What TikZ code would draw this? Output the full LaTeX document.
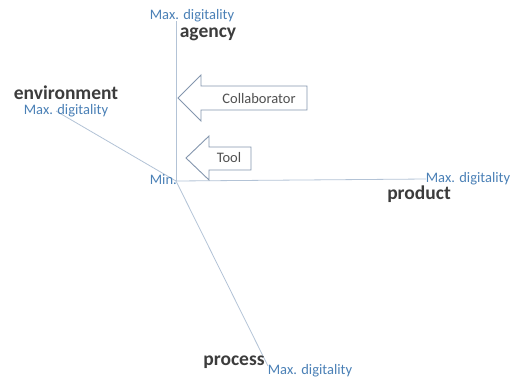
\documentclass[tikz,border=0pt]{standalone}
\usepackage{fontspec}
\setmainfont{Carlito}
\begin{document}
\begin{tikzpicture}[x=1pt,y=-1pt,
  axisline/.style={draw=axisblue,line width=0.8pt},
  maxlbl/.style={text=lblblue,font=\fontsize{14.5}{16}\selectfont,inner sep=0pt},
  dimlbl/.style={text=darktxt,font=\fontsize{19.5}{22}\selectfont\bfseries,inner sep=0pt},
  arrowshape/.style={draw=arrowgray,line width=0.9pt,fill=white,line join=miter},
  arrowtxt/.style={text=darktxt!90,font=\fontsize{14.5}{16}\selectfont,inner sep=0pt}]
\definecolor{axisblue}{HTML}{B3C3D6}
\definecolor{lblblue}{HTML}{4A80B6}
\definecolor{darktxt}{HTML}{3C3C3C}
\definecolor{arrowgray}{HTML}{8496AE}
\useasboundingbox (0,0) rectangle (513,381);

% origin and axis ends
\coordinate (O) at (176,181);
\coordinate (agencyEnd) at (176,21);
\coordinate (envEnd) at (56,111);
\coordinate (prodEnd) at (426,179);
\coordinate (procEnd) at (268,366);

% axes
\draw[axisline] (O) -- (agencyEnd);
\draw[axisline] (O) -- (envEnd);
\draw[axisline] (O) -- (prodEnd);
\draw[axisline] (O) -- (procEnd);

% axis labels
\node[maxlbl] (agencyMax) at (192,16) {Max. digitality};
\node[dimlbl] (agency) at (208,34) {agency};
\node[dimlbl] (environment) at (66,93) {environment};
\node[maxlbl] (envMax) at (66,111) {Max. digitality};
\node[maxlbl] (prodMax) at (468,179) {Max. digitality};
\node[dimlbl] (product) at (419,194) {product};
\node[maxlbl] (procMax) at (310,371) {Max. digitality};
\node[dimlbl] (process) at (234,362) {process};
\node[maxlbl,anchor=east] (minlbl) at (177,180) {Min.};

% block arrows pointing at the agency axis
\draw[arrowshape] (178,98) -- (201,75) -- (201,86) -- (307,86) -- (307,110)
  -- (201,110) -- (201,121) -- cycle;
\node[arrowtxt] (collab) at (259,99) {Collaborator};
\draw[arrowshape] (186,158) -- (209,136) -- (209,147) -- (251,147) -- (251,170)
  -- (209,170) -- (209,180) -- cycle;
\node[arrowtxt] (tool) at (229,158) {Tool};
\end{tikzpicture}
\end{document}
